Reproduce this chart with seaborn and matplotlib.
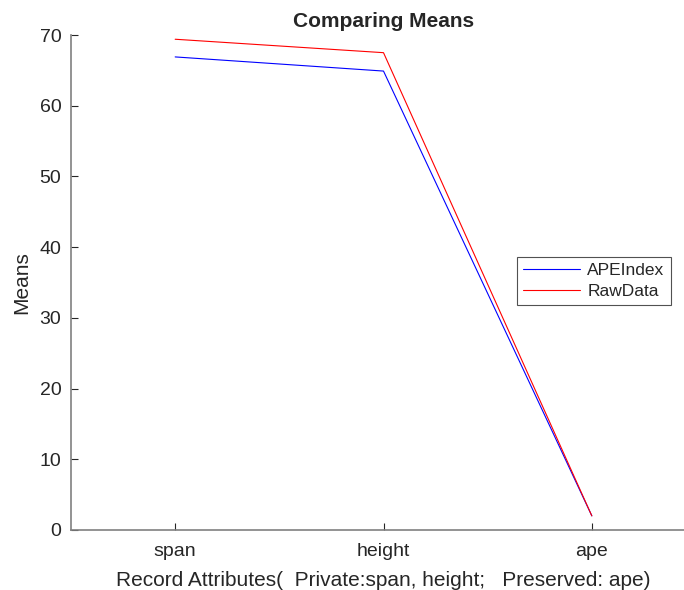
import matplotlib
matplotlib.use("Agg")
import matplotlib.pyplot as plt
import pandas as pd
import seaborn as sns

attributes = ["span", "height", "ape"]
ape_index = [66.9, 64.9, 2.0]
raw_data = [69.4, 67.5, 2.0]
series_names = ["APEIndex", "RawData"]
series_colors = {"APEIndex": "#0000ff", "RawData": "#ff0000"}

df = pd.DataFrame({
    "pos": list(range(1, 4)) * 2,
    "attr": attributes * 2,
    "Means": ape_index + raw_data,
    "series": [series_names[0]] * 3 + [series_names[1]] * 3,
})

sns.set_style("white", {"xtick.bottom": True, "ytick.left": True})
plt.rcParams["font.family"] = ["Liberation Sans", "DejaVu Sans"]

fig = plt.figure(figsize=(6.84, 5.90), dpi=100)
ax = fig.add_axes([71 / 684, 60 / 590, 625 / 684, 495 / 590])

sns.lineplot(data=df, x="pos", y="Means", hue="series", hue_order=series_names,
             palette=series_colors, linewidth=0.8, ax=ax)

ax.set_xlim(0.5, 3.5)
ax.set_ylim(0, 70)
ax.set_xticks([1, 2, 3])
ax.set_xticklabels(attributes)
ax.set_yticks(range(0, 71, 10))
ax.tick_params(direction="in", length=5, width=0.8, colors="#262626", labelsize=14, pad=7)
ax.tick_params(axis="x", pad=9)
for side in ["top", "right"]:
    ax.spines[side].set_visible(False)
for side in ["left", "bottom"]:
    ax.spines[side].set_color("#808080")
    ax.spines[side].set_linewidth(1.2)

ax.set_xlabel("Record Attributes(  Private:span, height;   Preserved: ape)", fontsize=15, color="#262626", labelpad=8)
ax.set_ylabel("Means", fontsize=15, color="#262626", labelpad=6)
ax.set_title("Comparing Means", fontsize=15, fontweight="bold", pad=6)

leg = ax.legend(loc="upper left", bbox_to_anchor=((517 - 71) / 625, (530 - 257) / 495),
                frameon=True, fontsize=12.5, fancybox=False, handlelength=3.3, borderpad=0.35,
                labelspacing=0.3, borderaxespad=0, handletextpad=0.4)
leg.get_frame().set_edgecolor("#262626")
leg.get_frame().set_linewidth(0.8)

fig.savefig("out.png", dpi=100)
